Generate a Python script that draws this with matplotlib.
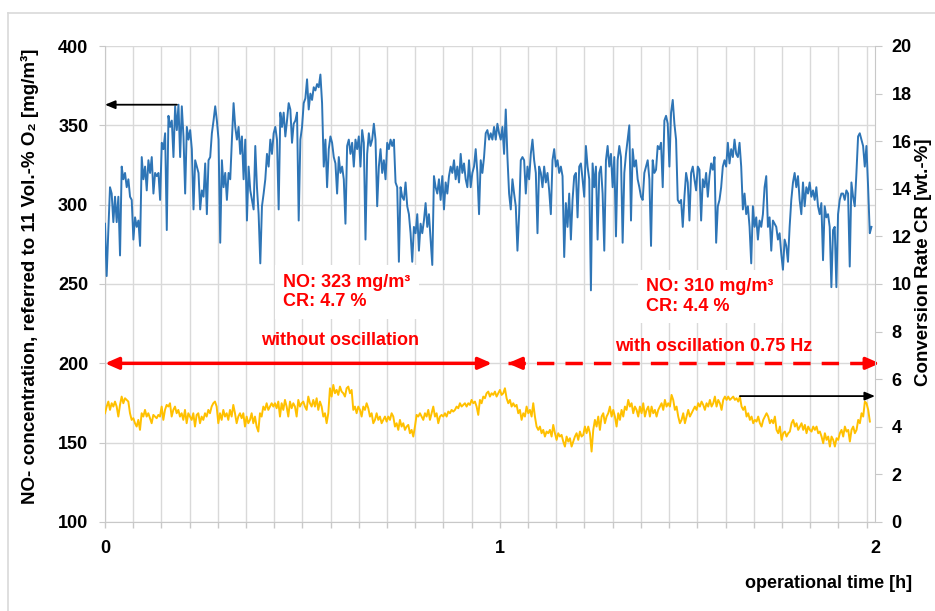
import numpy as np
import matplotlib
matplotlib.use("Agg")
import matplotlib.pyplot as plt
from matplotlib.lines import Line2D

plt.rcParams['font.family'] = ['Liberation Sans', 'DejaVu Sans']
plt.rcParams['font.weight'] = 'bold'

# ---------------- data ----------------
# NO concentration [mg/m3], equally spaced samples over the run
no_values = [
    288,255,284,311,307,289,305,289,305,268,
    324,316,320,311,316,305,303,278,292,286,
    290,274,330,316,324,309,328,320,330,307,
    320,318,320,303,339,335,345,284,356,349,
    353,330,362,347,363,330,362,343,307,349,
    341,347,335,297,328,324,320,297,309,305,
    326,294,328,330,345,353,362,353,341,276,
    328,311,320,303,320,316,341,364,349,341,
    349,332,343,316,341,290,324,309,303,297,
    337,311,294,263,299,307,316,332,324,341,
    332,345,349,341,297,358,349,358,343,353,
    364,360,339,351,353,358,290,341,349,364,
    367,379,360,370,366,374,372,376,374,382,
    364,324,341,311,335,343,339,330,326,307,
    330,320,324,316,288,337,341,332,339,324,
    341,335,343,324,347,339,278,332,345,337,
    341,351,341,299,324,335,320,328,316,339,
    335,341,337,341,314,311,264,311,305,303,
    314,299,294,282,264,286,282,294,271,288,
    282,290,301,286,294,278,262,318,311,307,
    316,303,318,297,314,307,318,324,320,328,
    316,324,314,332,320,326,316,311,328,311,
    320,324,335,320,294,328,320,330,345,347,
    341,345,341,349,341,351,345,341,349,332,
    360,
    330,307,297,316,307,299,271,294,328,330,
    328,307,324,316,332,341,328,320,282,324,
    320,311,324,314,320,309,294,328,335,324,
    328,320,324,318,267,301,286,307,278,303,
    318,320,292,324,326,316,305,337,324,316,
    246,326,311,324,278,320,324,307,271,328,
    337,324,332,311,330,280,328,337,330,276,
    320,332,341,350,290,335,324,328,316,311,
    305,303,320,324,328,316,274,328,320,322,
    337,335,339,311,353,356,351,324,358,366,
    351,341,303,301,303,286,305,320,314,290,
    320,324,316,309,324,322,290,316,311,320,
    305,318,326,322,330,276,299,303,311,324,
    328,324,339,326,335,330,341,332,330,339,
    324,297,307,294,299,286,263,299,286,292,
    278,290,286,294,311,318,286,292,271,290,
    288,286,278,282,269,259,278,274,264,286,
    303,314,320,311,318,303,294,314,299,311,
    307,314,305,309,303,311,299,294,301,265,
    299,292,294,286,248,284,286,248,294,303,
    307,307,303,309,307,261,314,305,299,320,
    343,345,341,337,324,337,311,282,286,
]

# Conversion rate CR [wt.-%], equally spaced samples over the run
cr_values = [
    4.57,4.85,5.06,4.71,4.99,4.85,5.06,4.85,4.43,4.92,
    5.27,4.99,5.20,5.13,5.06,4.57,4.29,4.36,4.15,4.01,
    4.29,3.87,4.57,4.43,4.71,4.43,4.57,4.36,4.15,4.50,
    4.43,4.36,4.50,4.43,4.85,4.29,4.71,4.92,4.85,4.99,
    4.43,4.71,4.85,4.57,4.71,4.43,4.57,4.29,4.71,4.15,
    4.57,4.43,4.29,4.57,4.01,4.50,4.57,4.15,4.43,4.29,
    4.57,4.43,4.71,4.57,4.85,4.99,5.06,4.85,4.15,4.57,
    4.29,4.71,4.43,4.57,4.29,4.71,4.43,4.92,4.57,4.15,
    4.43,4.57,4.36,4.57,4.01,4.43,4.15,4.29,4.57,4.15,
    4.43,4.01,3.80,4.57,4.43,4.85,4.71,4.99,4.71,4.85,
    4.99,4.85,4.99,4.78,5.06,4.43,4.99,4.71,5.13,4.85,
    4.43,5.06,4.78,4.99,4.85,4.43,5.13,4.85,4.99,5.06,
    4.85,4.71,5.27,4.99,4.85,5.13,4.85,5.20,4.71,5.06,
    4.85,4.43,4.57,4.15,4.57,5.62,5.27,5.76,5.41,5.55,
    5.34,5.69,5.48,5.41,5.27,5.62,5.69,5.41,5.55,4.71,
    4.85,4.57,4.85,4.71,4.43,4.85,4.71,4.99,4.78,4.43,
    4.57,4.15,4.29,4.57,4.29,4.43,4.15,4.29,4.43,4.22,
    4.43,4.29,4.57,4.43,4.01,4.15,3.87,4.29,4.01,4.15,
    3.87,4.01,4.08,3.73,3.87,3.59,4.01,4.50,4.43,4.57,
    4.43,4.29,4.57,4.43,4.71,4.29,4.57,4.85,4.43,4.57,
    4.15,4.43,4.50,4.43,4.57,4.43,4.64,4.57,4.71,4.64,
    4.71,4.85,4.78,4.99,4.85,4.92,4.99,4.85,4.99,4.92,
    5.13,4.99,5.06,4.85,4.50,5.13,4.99,5.27,5.20,5.41,
    5.48,5.27,5.41,5.34,5.48,5.27,5.41,5.55,5.34,5.41,
    5.62,5.20,4.99,5.13,4.85,4.99,4.85,4.92,4.57,
    4.71,4.29,4.57,4.43,4.85,4.57,4.71,4.43,4.99,4.43,
    4.01,3.87,4.01,3.73,3.87,3.59,3.80,3.73,3.87,3.59,
    4.08,3.73,3.45,3.73,3.59,3.66,3.38,3.17,3.59,3.38,
    3.52,3.17,3.38,3.59,3.73,3.45,3.80,3.59,3.66,4.01,
    3.73,4.01,3.73,2.96,3.87,4.29,4.01,4.43,3.87,4.43,
    4.57,4.15,4.43,4.57,4.85,4.43,4.71,4.43,4.01,4.57,
    4.29,4.71,4.43,4.85,4.71,5.13,4.85,4.99,4.57,4.85,
    4.71,4.43,4.85,4.57,4.99,4.43,4.71,4.85,4.43,4.85,
    4.57,4.71,4.43,4.71,4.85,4.99,4.71,5.13,4.85,4.99,
    4.85,5.34,5.13,4.71,4.85,4.43,4.15,4.29,4.57,4.15,
    4.43,4.71,4.43,4.57,4.71,4.85,4.71,4.99,4.85,5.06,
    4.92,4.71,4.99,4.85,5.13,4.85,4.99,5.27,4.85,5.13,
    4.99,4.71,5.13,5.27,5.13,5.27,5.13,5.20,5.27,5.13,
    5.20,5.06,5.27,4.85,4.71,4.85,4.43,4.57,4.29,4.43,
    4.15,4.29,4.22,4.43,4.15,4.01,4.29,4.43,4.57,4.43,
    4.15,4.29,4.15,4.43,3.87,3.73,4.01,3.45,3.73,3.80,
    3.59,3.73,3.80,4.15,4.29,4.01,4.15,3.87,4.01,4.15,
    3.87,4.08,3.73,4.01,3.87,3.80,4.01,3.87,4.01,3.73,
    3.80,3.59,3.31,3.73,3.45,3.59,3.17,3.59,3.45,3.17,
    3.52,3.45,3.73,3.87,3.59,4.01,3.80,3.87,3.38,3.87,
    4.01,3.73,3.87,4.29,4.15,4.57,4.43,5.06,4.99,4.71,
    4.22,
]

no_t_end = 1.941   # h, last NO sample
cr_t_end = 1.937   # h, last CR sample
t_no = np.linspace(0.0, no_t_end, len(no_values))
t_cr = np.linspace(0.0, cr_t_end, len(cr_values))

x_max = 1.95
x_grid_step = 1.0 / 14
x_tick_pos = [0.0, 1.0]
x_tick_labels = ["0", "1"]
x_end_label = "2"
no_ticks = [100, 150, 200, 250, 300, 350, 400]
cr_ticks = [0, 2, 4, 6, 8, 10, 12, 14, 16, 18, 20]

label1 = "NO: 323 mg/m³\nCR: 4.7 %"
label2 = "NO: 310 mg/m³\nCR: 4.4 %"
phase1 = "without oscillation"
phase2 = "with oscillation 0.75 Hz"
phase1_range = (0.0, 0.98)
phase2_range = (1.02, 1.95)
phase_level = 200
mark_no = (0.182, 363)     # blue peak pointing to left axis
mark_cr = (1.608, 5.29)    # yellow point pointing to right axis

# ---------------- figure ----------------
fig = plt.figure(figsize=(9.35, 6.11), dpi=100)
ax = fig.add_axes([105/935, 1-522/611, 770/935, 476/611])
ax2 = ax.twinx()

grey = '#c8c8c8'
gridc = '#d9d9d9'
blue = '#2E75B6'
yellow = '#FFC000'
red = '#FF0000'
fs = 13

ax.set_xlim(0, x_max)
ax.set_ylim(100, 400)
ax2.set_ylim(0, 20)

grid_pos = np.arange(0, 28) * x_grid_step
ax.set_xticks(grid_pos)
lbls = [""] * len(grid_pos)
for p, l in zip(x_tick_pos, x_tick_labels):
    lbls[int(round(p / x_grid_step))] = l
ax.set_xticklabels(lbls)
ax.set_xticks([x_max], labels=[x_end_label], minor=True)
ax.tick_params(axis='x', which='major', length=4, color=grey, width=1,
               labelsize=fs, pad=9)
ax.tick_params(axis='x', which='minor', length=0, labelsize=fs, pad=13)
ax.set_yticks(no_ticks)
ax.tick_params(axis='y', length=4, color=grey, labelsize=fs, pad=8)
ax2.set_yticks(cr_ticks)
ax2.tick_params(axis='y', length=5, color=grey, labelsize=fs, pad=7)
for t in ax.get_xticklabels(which='both') + ax.get_yticklabels() + ax2.get_yticklabels():
    t.set_fontweight('bold')

ax.grid(True, axis='both', which='major', color=gridc, lw=1.0)
ax.set_axisbelow(True)
for s in ['top', 'right']:
    ax.spines[s].set_visible(False)
for s in ['left', 'bottom']:
    ax.spines[s].set_color(grey)
for s in ['top', 'left', 'bottom']:
    ax2.spines[s].set_visible(False)
ax2.spines['right'].set_color(grey)

ax.plot(t_no, no_values, color=blue, lw=1.4, zorder=3)
ax2.plot(t_cr, cr_values, color=yellow, lw=1.4, zorder=3)

# text boxes
box = dict(facecolor='white', edgecolor='none', pad=6)
ax.text(0.451, 245, label1, color=red, fontsize=fs, fontweight='bold',
        ha='left', va='center', linespacing=1.2, bbox=box, zorder=2)
ax.text(1.371, 242, label2, color=red, fontsize=fs, fontweight='bold',
        ha='left', va='center', linespacing=1.2, bbox=box, zorder=2)
ax.text(0.595, 214.5, phase1, color=red, fontsize=fs, fontweight='bold',
        ha='center', va='center', zorder=4)
ax.text(1.542, 210.5, phase2, color=red, fontsize=fs, fontweight='bold',
        ha='center', va='center', zorder=4)

# red double arrows
ax.annotate('', xy=(phase1_range[0], phase_level), xytext=(phase1_range[1], phase_level),
            arrowprops=dict(arrowstyle='<|-|>,head_length=0.8,head_width=0.35',
                            color=red, lw=2.5, shrinkA=0, shrinkB=0), zorder=4,
            annotation_clip=False)
ax.plot(phase2_range, [phase_level, phase_level], color=red, lw=2.5,
        dashes=(5, 3.2), zorder=4, clip_on=False)
d = 0.03
ax.annotate('', xy=(phase2_range[0], phase_level), xytext=(phase2_range[0] + d, phase_level),
            arrowprops=dict(arrowstyle='-|>,head_length=0.8,head_width=0.35',
                            color=red, lw=2.5, shrinkA=0, shrinkB=0), zorder=4,
            annotation_clip=False)
ax.annotate('', xy=(phase2_range[1] + 0.012, phase_level), xytext=(phase2_range[1] - d, phase_level),
            arrowprops=dict(arrowstyle='-|>,head_length=0.8,head_width=0.35',
                            color=red, lw=2.5, shrinkA=0, shrinkB=0), zorder=4,
            annotation_clip=False)

# black arrows to axes
ax.annotate('', xy=(0.0, mark_no[1]), xytext=mark_no,
            arrowprops=dict(arrowstyle='-|>,head_length=0.6,head_width=0.25',
                            color='black', lw=1.3, shrinkA=0, shrinkB=0), zorder=5)
ax2.annotate('', xy=(x_max, mark_cr[1]), xytext=mark_cr,
             arrowprops=dict(arrowstyle='-|>,head_length=0.6,head_width=0.25',
                             color='black', lw=1.3, shrinkA=0, shrinkB=0), zorder=5)

# axis titles
fig.text(30/935, 1-276/611, "NO- concentration, referred to 11 Vol.-% O₂ [mg/m³]",
         rotation=90, ha='center', va='center', fontsize=13.5, fontweight='bold')
fig.text(924/935, 1-262/611, "Conversion Rate CR [wt.-%]",
         rotation=90, ha='center', va='center', fontsize=13.5, fontweight='bold')
fig.text(912/935, 1-583/611, "operational time [h]",
         ha='right', va='center', fontsize=fs, fontweight='bold')

# chart area border (left and top)
fig.add_artist(Line2D([8/935, 8/935], [0, 1-13/611], color=gridc, lw=1.2,
                      transform=fig.transFigure))
fig.add_artist(Line2D([8/935, 1], [1-13/611, 1-13/611], color=gridc, lw=1.2,
                      transform=fig.transFigure))

fig.savefig("out.png", dpi=100)
